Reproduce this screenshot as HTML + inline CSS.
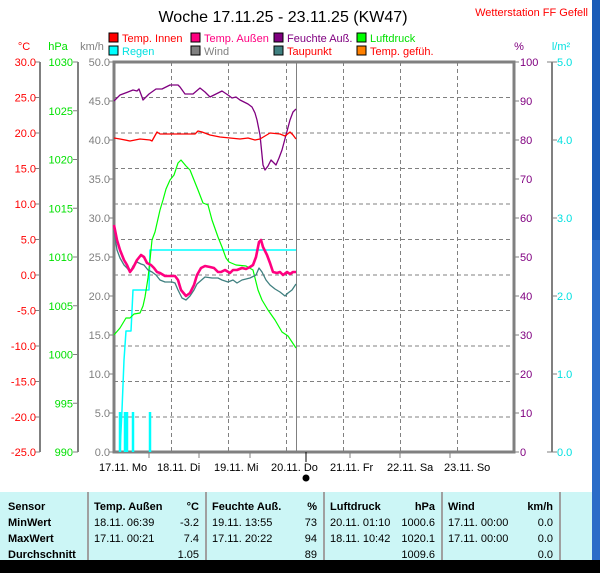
<!DOCTYPE html>
<html><head><meta charset="utf-8"><style>
html,body{margin:0;padding:0;width:600px;height:573px;overflow:hidden;background:#1a5cb8;}
svg{display:block;font-family:"Liberation Sans",sans-serif;}
</style></head><body>
<svg width="600" height="573" viewBox="0 0 600 573" xmlns="http://www.w3.org/2000/svg">
<rect x="0" y="0" width="600" height="573" fill="#1a5cb8"/>
<rect x="592" y="240" width="8" height="320" fill="#2a6cc8"/>
<rect x="0" y="0" width="592" height="492" fill="#fff"/>
<rect x="0" y="492" width="592" height="68" fill="#ccf6f6"/>
<rect x="0" y="560" width="600" height="13" fill="#000"/>
<!-- title -->
<text x="283" y="22" font-size="16" text-anchor="middle" fill="#000">Woche 17.11.25 - 23.11.25 (KW47)</text>
<text x="588" y="16" font-size="11" text-anchor="end" fill="#ff0000">Wetterstation FF Gefell</text>
<!-- legend -->
<g font-size="11">
<rect x="109" y="33" width="9" height="9" fill="#ff0000" stroke="#000"/><text x="122" y="42" fill="#ff0000">Temp. Innen</text>
<rect x="191" y="33" width="9" height="9" fill="#ff0080" stroke="#000"/><text x="204" y="42" fill="#ff0080">Temp. Außen</text>
<rect x="274" y="33" width="9" height="9" fill="#800080" stroke="#000"/><text x="287" y="42" fill="#800080">Feuchte Auß.</text>
<rect x="357" y="33" width="9" height="9" fill="#00ff00" stroke="#000"/><text x="370" y="42" fill="#00e000">Luftdruck</text>
<rect x="109" y="46" width="9" height="9" fill="#00ffff" stroke="#000"/><text x="122" y="55" fill="#00e0e0">Regen</text>
<rect x="191" y="46" width="9" height="9" fill="#808080" stroke="#000"/><text x="204" y="55" fill="#808080">Wind</text>
<rect x="274" y="46" width="9" height="9" fill="#408080" stroke="#000"/><text x="287" y="55" fill="#ff0000">Taupunkt</text>
<rect x="357" y="46" width="9" height="9" fill="#ff8000" stroke="#000"/><text x="370" y="55" fill="#ff0000">Temp. gefüh.</text>
<text x="24" y="50" text-anchor="middle" fill="#ff0000">°C</text>
<text x="58" y="50" text-anchor="middle" fill="#00e000">hPa</text>
<text x="92" y="50" text-anchor="middle" fill="#808080">km/h</text>
<text x="519" y="50" text-anchor="middle" fill="#800080">%</text>
<text x="561" y="50" text-anchor="middle" fill="#00e0e0">l/m²</text>
</g>
<!-- grid -->
<g stroke="#808080" stroke-dasharray="4,3" stroke-width="1">
<line x1="114" y1="97.5" x2="514" y2="97.5"/><line x1="114" y1="133" x2="514" y2="133"/>
<line x1="114" y1="168.5" x2="514" y2="168.5"/><line x1="114" y1="204" x2="514" y2="204"/>
<line x1="114" y1="239.5" x2="514" y2="239.5"/><line x1="114" y1="275" x2="514" y2="275"/>
<line x1="114" y1="310.5" x2="514" y2="310.5"/><line x1="114" y1="346" x2="514" y2="346"/>
<line x1="114" y1="381.5" x2="514" y2="381.5"/><line x1="114" y1="417" x2="514" y2="417"/>
<line x1="171.5" y1="62" x2="171.5" y2="452"/><line x1="228.5" y1="62" x2="228.5" y2="452"/>
<line x1="286.5" y1="62" x2="286.5" y2="452"/><line x1="343.5" y1="62" x2="343.5" y2="452"/>
<line x1="400.5" y1="62" x2="400.5" y2="452"/><line x1="457.5" y1="62" x2="457.5" y2="452"/>
</g>
<line x1="296.5" y1="62" x2="296.5" y2="452" stroke="#808080"/>
<rect x="114" y="62" width="400" height="390" fill="none" stroke="#808080" stroke-width="3"/>
<!-- axes -->
<g stroke="#808080" stroke-width="2">
<line x1="40" y1="62" x2="40" y2="452"/><line x1="78" y1="62" x2="78" y2="452"/><line x1="552" y1="62" x2="552" y2="452"/>
</g>
<g stroke="#808080" stroke-width="1">
<path d="M35 62h5M35 97.5h5M35 133h5M35 168.5h5M35 204h5M35 239.5h5M35 275h5M35 310.5h5M35 346h5M35 381.5h5M35 417h5M35 452h5"/>
<path d="M73 62h5M73 110.75h5M73 159.5h5M73 208.25h5M73 257h5M73 305.75h5M73 354.5h5M73 403.25h5M73 452h5"/>
<path d="M109 62h5M109 101h5M109 140h5M109 179h5M109 218h5M109 257h5M109 296h5M109 335h5M109 374h5M109 413h5M109 452h5"/>
<path d="M514 62h5M514 101h5M514 140h5M514 179h5M514 218h5M514 257h5M514 296h5M514 335h5M514 374h5M514 413h5M514 452h5"/>
<path d="M547 62h10M552 140h5M552 218h5M552 296h5M552 374h5M547 452h10"/>
<path d="M149 452v6M199 452v6M250 452v6M350 452v6M400 452v6M450 452v6"/>
</g>
<line x1="306" y1="452" x2="306" y2="462" stroke="#000"/>
<circle cx="306" cy="478" r="3.5" fill="#000"/>
<g font-size="11">
<g fill="#ff0000" text-anchor="end">
<text x="36" y="66">30.0</text><text x="36" y="101.5">25.0</text><text x="36" y="137">20.0</text><text x="36" y="172.5">15.0</text><text x="36" y="208">10.0</text><text x="36" y="243.5">5.0</text><text x="36" y="279">0.0</text><text x="36" y="314.5">-5.0</text><text x="36" y="350">-10.0</text><text x="36" y="385.5">-15.0</text><text x="36" y="421">-20.0</text><text x="36" y="456">-25.0</text>
</g>
<g fill="#00e000" text-anchor="end">
<text x="73" y="66">1030</text><text x="73" y="114.75">1025</text><text x="73" y="163.5">1020</text><text x="73" y="212.25">1015</text><text x="73" y="261">1010</text><text x="73" y="309.75">1005</text><text x="73" y="358.5">1000</text><text x="73" y="407.25">995</text><text x="73" y="456">990</text>
</g>
<g fill="#808080" text-anchor="end">
<text x="110" y="66">50.0</text><text x="110" y="105">45.0</text><text x="110" y="144">40.0</text><text x="110" y="183">35.0</text><text x="110" y="222">30.0</text><text x="110" y="261">25.0</text><text x="110" y="300">20.0</text><text x="110" y="339">15.0</text><text x="110" y="378">10.0</text><text x="110" y="417">5.0</text><text x="110" y="456">0.0</text>
</g>
<g fill="#800080">
<text x="520" y="66">100</text><text x="520" y="105">90</text><text x="520" y="144">80</text><text x="520" y="183">70</text><text x="520" y="222">60</text><text x="520" y="261">50</text><text x="520" y="300">40</text><text x="520" y="339">30</text><text x="520" y="378">20</text><text x="520" y="417">10</text><text x="520" y="456">0</text>
</g>
<g fill="#00e0e0">
<text x="557" y="66">5.0</text><text x="557" y="144">4.0</text><text x="557" y="222">3.0</text><text x="557" y="300">2.0</text><text x="557" y="378">1.0</text><text x="557" y="456">0.0</text>
</g>
<g fill="#000">
<text x="99" y="471">17.11.  Mo</text><text x="157" y="471">18.11.  Di</text><text x="214" y="471">19.11.  Mi</text><text x="271" y="471">20.11.  Do</text><text x="330" y="471">21.11.  Fr</text><text x="387" y="471">22.11.  Sa</text><text x="444" y="471">23.11.  So</text>
</g>
</g>
<!-- series -->
<g fill="none" stroke-linejoin="round">
<polyline stroke="#00ffff" stroke-width="1.5" points="120,452 122,410 124,360 126,331 131,331 133,290 149,290 150,250 296,250"/>
<g stroke="#00ffff" stroke-width="2.5"><line x1="120" y1="412" x2="120" y2="452"/><line x1="125" y1="412" x2="125" y2="452"/><line x1="127" y1="412" x2="127" y2="452"/><line x1="133" y1="412" x2="133" y2="452"/><line x1="150" y1="412" x2="150" y2="452"/></g>
<polyline stroke="#800080" stroke-width="1.3" points="114,101 120,95 128,92 133,90 137,91 139,89 142,97 143,100 149,94 156,89 162,89 170,85 178,85 180,87 185,94 193,94 200,88 205,92 210,97 218,93 222,91 228,95 232,98 236,97 240,100 244,102 248,104 252,107 255,113 257,120 260,135 262,155 263,165 265,170 268,166 271,160 274,163 276,165 279,158 282,150 286,135 290,120 293,112 296,109"/>
<polyline stroke="#ff0000" stroke-width="1.3" points="114,138 120,139 130,141 140,139 150,140 152,141 157,132 160,134 175,134 195,134 198,131 202,132 210,135 220,137 240,139 248,138 255,140 260,139 265,136 270,133 280,134 285,136 290,132 293,135 296,139"/>
<polyline stroke="#00ff00" stroke-width="1.2" points="114,335 120,328 126,318 130,318 134,314 140,313 143,306 145,297 148,278 150,260 152,240 155,232 160,210 163,200 166,189 170,180 174,175 178,163 181,160 186,166 190,170 194,180 198,190 203,203 208,205 212,220 218,237 222,247 226,258 229,262 236,265 246,266 253,270 258,290 262,300 268,310 275,320 282,332 288,336 292,342 296,348"/>
<polyline stroke="#408080" stroke-width="1.3" points="114,230 117,250 120,258 124,265 127,268 130,272 133,266 137,262 141,264 144,265 148,270 152,272 156,275 160,280 165,282 172,282 175,283 178,290 182,298 186,300 190,296 194,290 197,284 205,277 212,278 218,278 222,280 228,282 233,280 237,283 242,280 250,278 256,275 259,268 262,272 266,280 270,285 275,289 280,292 285,296 288,293 292,290 296,284"/>
<polyline stroke="#ff0080" stroke-width="2.6" points="114,225 117,240 120,250 124,260 127,265 130,272 133,268 137,260 141,255 144,257 147,263 151,265 154,268 157,272 160,273 165,276 170,276 175,276 178,280 181,290 186,296 190,293 194,285 197,275 201,268 205,266 210,267 214,268 218,272 221,272 225,270 230,273 233,270 237,270 242,268 246,269 250,267 253,265 256,257 259,242 261,240 263,247 267,255 270,263 273,272 277,273 280,272 283,275 287,272 290,274 293,272 296,272"/>
</g>
<!-- table -->
<g stroke="#a0a0a0" stroke-width="2"><line x1="88" y1="492" x2="88" y2="560"/><line x1="206" y1="492" x2="206" y2="560"/><line x1="324" y1="492" x2="324" y2="560"/><line x1="442" y1="492" x2="442" y2="560"/><line x1="560" y1="492" x2="560" y2="560"/></g>
<g font-size="11" fill="#000">
<g font-weight="bold"><text x="8" y="510">Sensor</text><text x="8" y="526">MinWert</text><text x="8" y="542">MaxWert</text><text x="8" y="558">Durchschnitt</text>
<text x="94" y="510">Temp. Außen</text><text x="199" y="510" text-anchor="end">°C</text>
<text x="212" y="510">Feuchte Auß.</text><text x="317" y="510" text-anchor="end">%</text>
<text x="330" y="510">Luftdruck</text><text x="435" y="510" text-anchor="end">hPa</text>
<text x="448" y="510">Wind</text><text x="553" y="510" text-anchor="end">km/h</text></g>
<text x="94" y="526">18.11.  06:39</text><text x="199" y="526" text-anchor="end">-3.2</text>
<text x="94" y="542">17.11.  00:21</text><text x="199" y="542" text-anchor="end">7.4</text>
<text x="199" y="558" text-anchor="end">1.05</text>
<text x="212" y="526">19.11.  13:55</text><text x="317" y="526" text-anchor="end">73</text>
<text x="212" y="542">17.11.  20:22</text><text x="317" y="542" text-anchor="end">94</text>
<text x="317" y="558" text-anchor="end">89</text>
<text x="330" y="526">20.11.  01:10</text><text x="435" y="526" text-anchor="end">1000.6</text>
<text x="330" y="542">18.11.  10:42</text><text x="435" y="542" text-anchor="end">1020.1</text>
<text x="435" y="558" text-anchor="end">1009.6</text>
<text x="448" y="526">17.11.  00:00</text><text x="553" y="526" text-anchor="end">0.0</text>
<text x="448" y="542">17.11.  00:00</text><text x="553" y="542" text-anchor="end">0.0</text>
<text x="553" y="558" text-anchor="end">0.0</text>
</g>
</svg>
</body></html>
